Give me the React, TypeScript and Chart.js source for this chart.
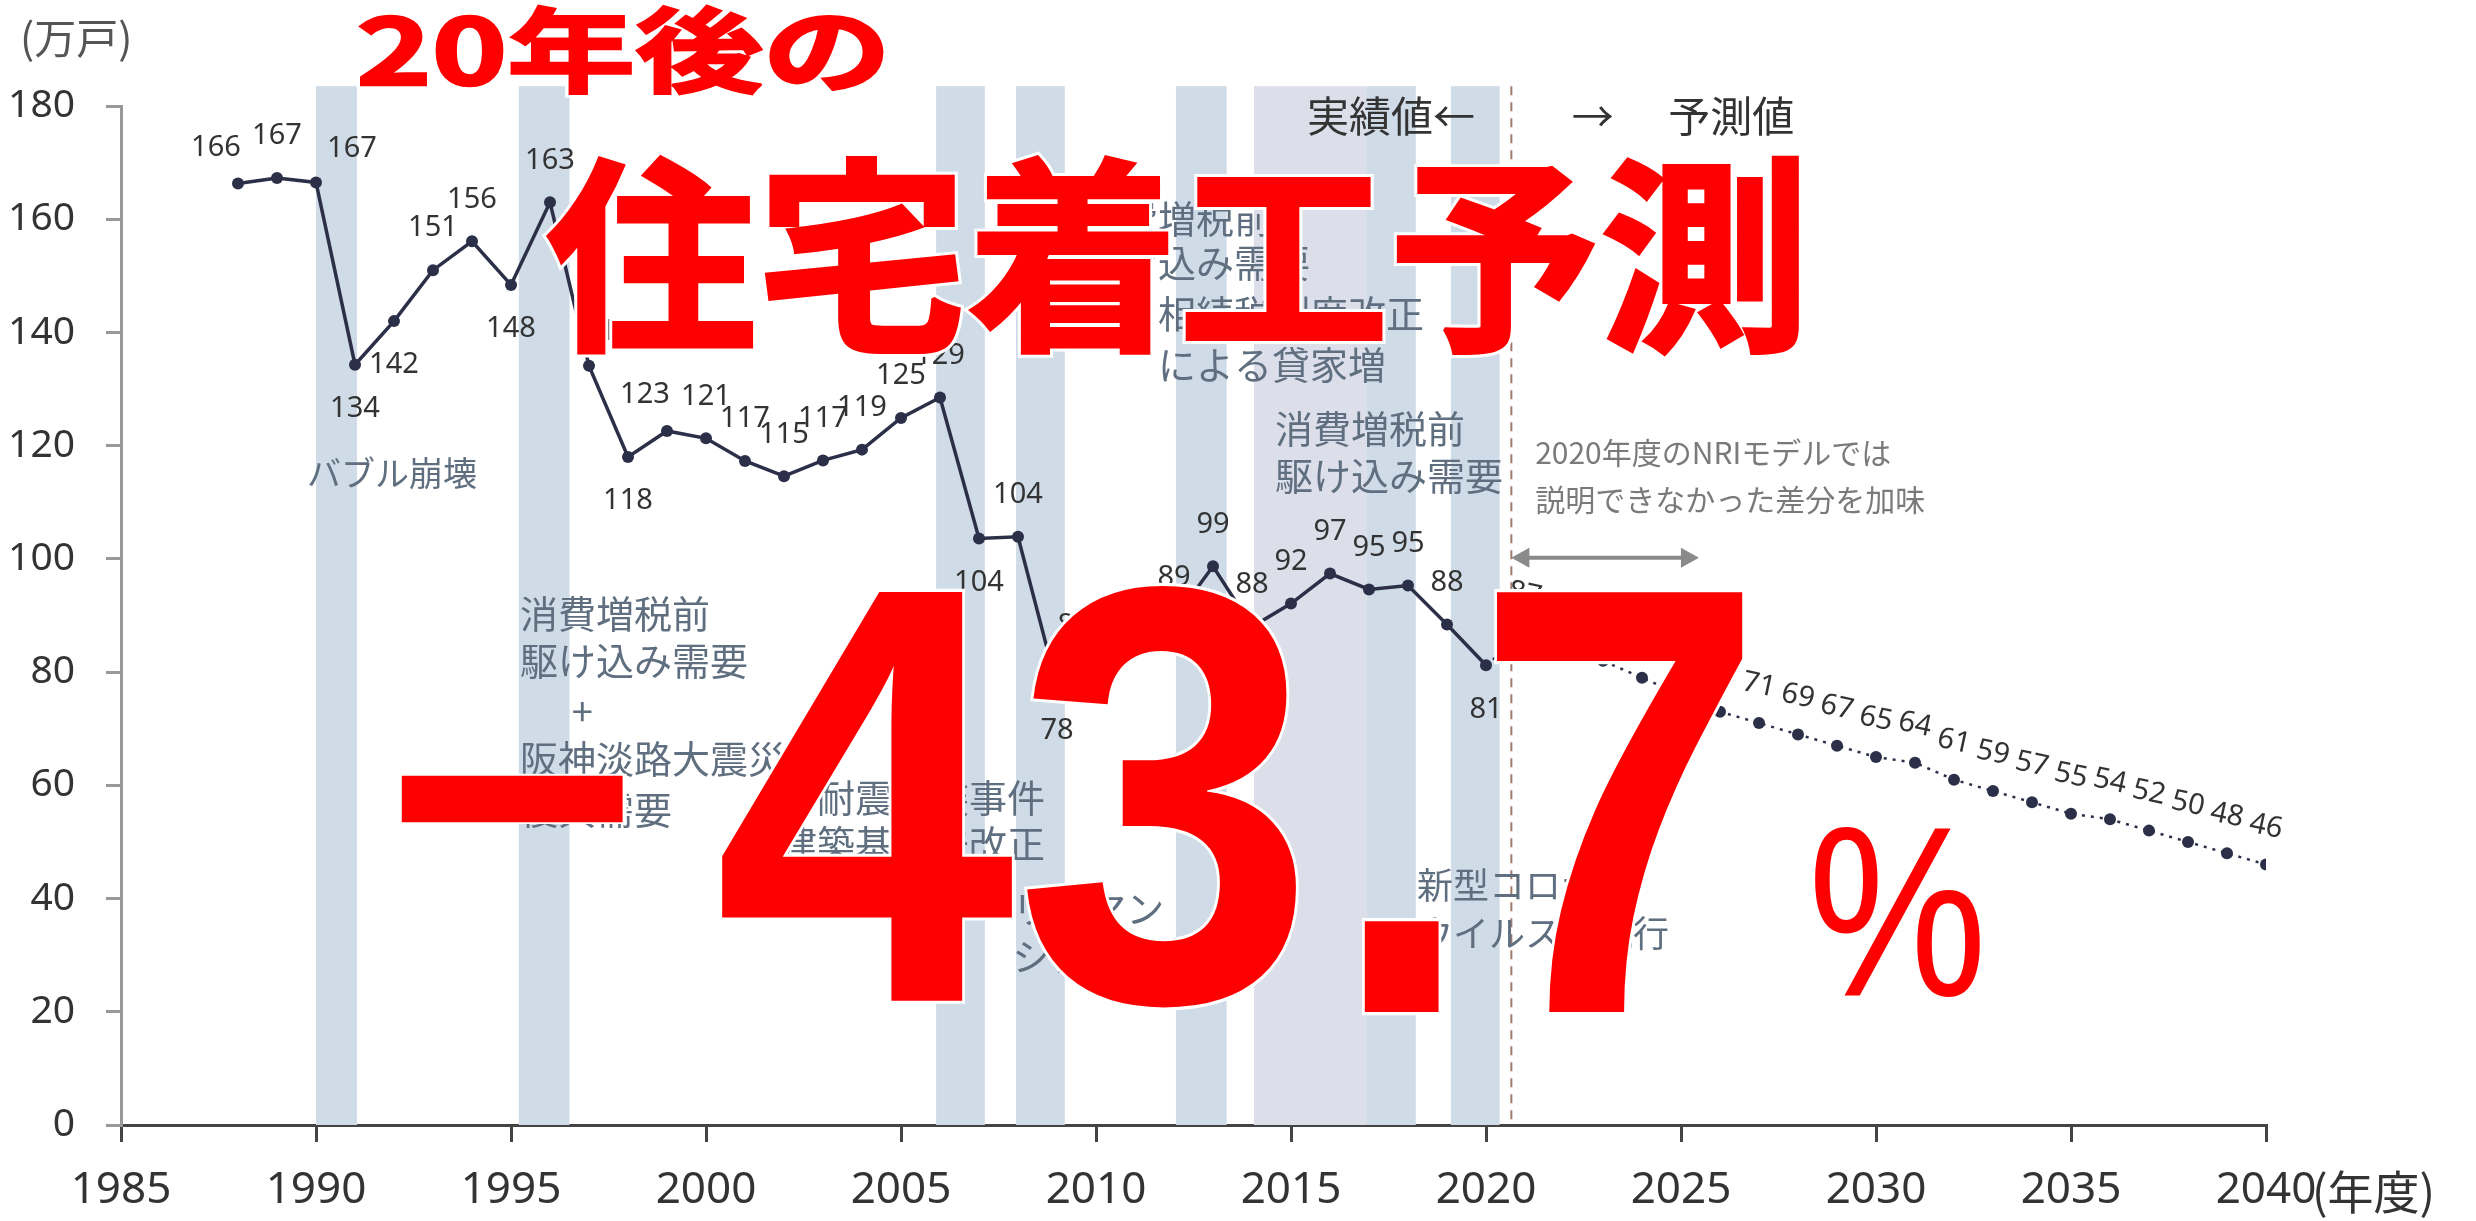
import React, { useEffect, useRef } from 'react';
import { Chart, registerables } from 'chart.js';

Chart.register(...registerables);

// ---------- data ----------
const actualYears = [1988, 1989, 1990, 1991, 1992, 1993, 1994, 1995, 1996, 1997, 1998, 1999, 2000, 2001, 2002, 2003, 2004, 2005, 2006, 2007, 2008, 2009, 2010, 2011, 2012, 2013, 2014, 2015, 2016, 2017, 2018, 2019, 2020];
const actualValues = [166.3, 167.3, 166.5, 134.3, 142.0, 151.0, 156.1, 148.4, 163.0, 134.1, 118.0, 122.6, 121.3, 117.3, 114.6, 117.4, 119.3, 124.9, 128.5, 103.6, 103.9, 77.5, 81.9, 84.1, 89.3, 98.7, 88.0, 92.1, 97.4, 94.6, 95.3, 88.4, 81.2];
const forecastYears = [2020, 2021, 2022, 2023, 2024, 2025, 2026, 2027, 2028, 2029, 2030, 2031, 2032, 2033, 2034, 2035, 2036, 2037, 2038, 2039, 2040];
const forecastValues = [81.2, 87, 85, 82, 79, 76, 73, 71, 69, 67, 65, 64, 61, 59, 57, 55, 54, 52, 50, 48, 46];
const xTickValues = [1985, 1990, 1995, 2000, 2005, 2010, 2015, 2020, 2025, 2030, 2035, 2040];
const yTickValues = [0, 20, 40, 60, 80, 100, 120, 140, 160, 180];

// shaded event periods (fiscal years)
const bandStarts = [1990.0, 1995.2, 2005.9, 2007.95, 2012.05, 2014.05, 2016.93, 2019.1];
const bandEnds = [1991.05, 1996.5, 2007.15, 2009.2, 2013.35, 2016.93, 2018.2, 2020.35];
const bandKinds = ['b', 'b', 'b', 'b', 'b', 'l', 'b', 'b'];
const boundaryYear = 2020.65;

// label placement per actual point (style only)
const actualLabelPos = ['al', 'a', 'ar', 'b', 'b', 'a', 'a', 'b', 'a', 'ar', 'b', 'al', 'a', 'a', 'a', 'a', 'a', 'a', 'a', 'b', 'a', 'b', 'al', 'a', 'a', 'a', 'a', 'a', 'a', 'a', 'a', 'a', 'b'];

type Note = { t: string; x: number; y: number; size?: number; align?: CanvasTextAlign; color?: string };
const notes: Note[] = [
  { t: 'バブル崩壊', x: 1989.77, y: 115.2, size: 34 },
  { t: '消費増税前', x: 1995.23, y: 90.3 },
  { t: '駆け込み需要', x: 1995.23, y: 82.0 },
  { t: '+', x: 1996.56, y: 73.1 },
  { t: '阪神淡路大震災', x: 1995.23, y: 64.8 },
  { t: '復興需要', x: 1995.23, y: 55.8 },
  { t: '耐震偽装事件', x: 2008.69, y: 57.9, align: 'right' },
  { t: '建築基準法改正', x: 2008.69, y: 49.8, align: 'right' },
  { t: 'リーマン', x: 2007.85, y: 38.3 },
  { t: 'ショック', x: 2007.85, y: 29.7 },
  { t: '消費増税前', x: 2009.64, y: 160.2 },
  { t: '駆け込み需要', x: 2009.64, y: 152.4 },
  { t: '相続税制度改正', x: 2011.59, y: 143.3 },
  { t: 'による貸家増', x: 2011.59, y: 134.4 },
  { t: '消費増税前', x: 2014.59, y: 123.1 },
  { t: '駆け込み需要', x: 2014.59, y: 114.8 },
  { t: '新型コロナ', x: 2018.23, y: 42.4, size: 36 },
  { t: 'ウイルスの流行', x: 2018.23, y: 33.9, size: 36 },
  { t: '2020年度のNRIモデルでは', x: 2021.26, y: 118.7, size: 30, color: '#7a7a7a' },
  { t: '説明できなかった差分を加味', x: 2021.26, y: 110.4, size: 30, color: '#7a7a7a' },
  { t: '実績値←', x: 2019.72, y: 178.2, size: 42, align: 'right', color: '#333' },
  { t: '→', x: 2022.2, y: 178.2, size: 42, color: '#333' },
  { t: '予測値', x: 2024.67, y: 178.2, size: 42, color: '#333' },
];

const JP = '"Noto Sans CJK JP", "Noto Sans", sans-serif';
const NUM = '"Noto Sans", "Open Sans", sans-serif';
const BIG = '"Liberation Sans", Arial, sans-serif';
const LINE = '#2b2f48';
const RED = '#ff0000';

function fitText(
  ctx: CanvasRenderingContext2D,
  text: string,
  font: string,
  l: number, t: number, r: number, b: number,
  grow: number,
  outline: number,
) {
  ctx.save();
  ctx.font = font;
  ctx.textAlign = 'left';
  ctx.textBaseline = 'alphabetic';
  const m = ctx.measureText(text);
  const inkW = m.actualBoundingBoxLeft + m.actualBoundingBoxRight;
  const inkH = m.actualBoundingBoxAscent + m.actualBoundingBoxDescent;
  const sx = (r - l - 2 * grow) / inkW;
  const sy = (b - t - 2 * grow) / inkH;
  ctx.translate(l + grow, t + grow);
  ctx.scale(sx, sy);
  const s = (sx + sy) / 2;
  const x = m.actualBoundingBoxLeft;
  const y = m.actualBoundingBoxAscent;
  ctx.lineJoin = 'miter';
  ctx.miterLimit = 2;
  ctx.strokeStyle = '#ffffff';
  ctx.lineWidth = (2 * grow + 2 * outline) / s;
  ctx.strokeText(text, x, y);
  if (grow > 0) {
    ctx.strokeStyle = RED;
    ctx.lineWidth = (2 * grow) / s;
    ctx.strokeText(text, x, y);
  }
  ctx.fillStyle = RED;
  ctx.fillText(text, x, y);
  ctx.restore();
}

const backgroundPlugin = {
  id: 'bgBands',
  beforeDatasetsDraw(chart: any) {
    const { ctx, chartArea, scales } = chart;
    const xs = scales.x;
    const ys = scales.y;
    const top = ys.getPixelForValue(183.5);
    ctx.save();
    bandStarts.forEach((s, i) => {
      const x0 = xs.getPixelForValue(s);
      const x1 = xs.getPixelForValue(bandEnds[i]);
      ctx.fillStyle = bandKinds[i] === 'l' ? '#dcdfea' : '#cfdbe7';
      ctx.fillRect(x0, top, x1 - x0, chartArea.bottom - top);
    });
    // boundary dashed line
    const bx = xs.getPixelForValue(boundaryYear);
    ctx.strokeStyle = '#a07a6c';
    ctx.lineWidth = 2;
    ctx.setLineDash([9, 7]);
    ctx.beginPath();
    ctx.moveTo(bx, top);
    ctx.lineTo(bx, chartArea.bottom);
    ctx.stroke();
    ctx.setLineDash([]);
    // double arrow
    const ay = ys.getPixelForValue(100.2);
    const ax1 = xs.getPixelForValue(2025.46);
    ctx.strokeStyle = '#8a8a8a';
    ctx.fillStyle = '#8a8a8a';
    ctx.lineWidth = 4;
    ctx.beginPath();
    ctx.moveTo(bx + 4, ay);
    ctx.lineTo(ax1 - 4, ay);
    ctx.stroke();
    ctx.beginPath();
    ctx.moveTo(bx, ay);
    ctx.lineTo(bx + 18, ay - 10);
    ctx.lineTo(bx + 18, ay + 10);
    ctx.closePath();
    ctx.fill();
    ctx.beginPath();
    ctx.moveTo(ax1, ay);
    ctx.lineTo(ax1 - 18, ay - 10);
    ctx.lineTo(ax1 - 18, ay + 10);
    ctx.closePath();
    ctx.fill();
    // annotation notes
    ctx.textBaseline = 'middle';
    notes.forEach((n) => {
      ctx.font = `${n.size || 38}px ${JP}`;
      ctx.fillStyle = n.color || '#5f6f80';
      ctx.textAlign = n.align || 'left';
      ctx.fillText(n.t, xs.getPixelForValue(n.x), ys.getPixelForValue(n.y));
    });
    ctx.restore();
  },
};

const offsets: Record<string, [number, number]> = {
  a: [0, -42],
  b: [0, 44],
  al: [-22, -36],
  ar: [36, -34],
};

const labelPlugin = {
  id: 'pointLabels',
  afterDatasetsDraw(chart: any) {
    const { ctx } = chart;
    ctx.save();
    ctx.font = `29px ${NUM}`;
    ctx.fillStyle = '#333';
    ctx.textAlign = 'center';
    ctx.textBaseline = 'middle';
    chart.getDatasetMeta(0).data.forEach((pt: any, i: number) => {
      const o = offsets[actualLabelPos[i]];
      ctx.fillText(String(Math.round(actualValues[i])), pt.x + o[0], pt.y + o[1]);
    });
    chart.getDatasetMeta(1).data.forEach((pt: any, i: number) => {
      if (i === 0) return;
      ctx.save();
      ctx.translate(pt.x, pt.y - 38);
      ctx.rotate((12 * Math.PI) / 180);
      ctx.fillText(String(forecastValues[i]), 0, 0);
      ctx.restore();
    });
    ctx.restore();
  },
};

const overlayPlugin = {
  id: 'overlay',
  afterDraw(chart: any) {
    const { ctx, scales } = chart;
    ctx.save();
    // unit labels
    ctx.fillStyle = '#555';
    ctx.textBaseline = 'middle';
    ctx.textAlign = 'left';
    ctx.font = `42px ${JP}`;
    ctx.fillText('(万戸)', 20, 38);
    ctx.fillStyle = '#333';
    ctx.font = `46px ${JP}`;
    ctx.fillText('(年度)', scales.x.getPixelForValue(2040) + 46, 1192);
    ctx.restore();

    // red headline overlay
    fitText(ctx, '20年後の', `bold 120px ${JP}`, 359, 4, 884, 96, 1.5, 3);
    fitText(ctx, '住宅着工予測', `bold 220px ${JP}`, 546, 155, 1799, 356, 2, 3);
    fitText(ctx, '-', `bold 600px ${BIG}`, 395, 772, 626, 827, 0, 3);
    fitText(ctx, '43', `bold 600px ${BIG}`, 714, 583, 1302, 1010, 0, 3);
    fitText(ctx, '.7', `bold 600px ${BIG}`, 1362, 583, 1744, 1012, 0, 3);
    fitText(ctx, '%', `200px ${BIG}`, 1815, 826, 1980, 997, 0, 3);
  },
};

export default function App() {
  const ref = useRef<HTMLCanvasElement>(null);
  useEffect(() => {
    document.body.style.margin = '0';
    document.body.style.background = '#ffffff';
    const canvas = ref.current!;
    const chart = new Chart(canvas, {
      type: 'line',
      data: {
        datasets: [
          {
            label: '実績値',
            data: actualYears.map((x, i) => ({ x, y: actualValues[i] })),
            borderColor: LINE,
            backgroundColor: LINE,
            borderWidth: 3.5,
            pointRadius: 6,
            pointBackgroundColor: LINE,
            pointBorderWidth: 0,
            tension: 0,
          },
          {
            label: '予測値',
            data: forecastYears.map((x, i) => ({ x, y: forecastValues[i] })),
            borderColor: LINE,
            backgroundColor: LINE,
            borderWidth: 2.5,
            borderDash: [3, 6],
            pointRadius: (c: any) => (c.dataIndex === 0 ? 0 : 6),
            pointBackgroundColor: LINE,
            pointBorderWidth: 0,
            tension: 0,
          },
        ],
      },
      options: {
        animation: false,
        responsive: false,
        devicePixelRatio: 1,
        layout: { padding: { top: 106, right: 210, bottom: 0, left: 0 }, autoPadding: false } as any,
        plugins: { legend: { display: false }, tooltip: { enabled: false } },
        scales: {
          x: {
            type: 'linear',
            min: 1985,
            max: 2040,
            afterBuildTicks: (s: any) => {
              s.ticks = xTickValues.map((v) => ({ value: v }));
            },
            afterFit: (s: any) => {
              s.height = 96;
            },
            ticks: {
              font: { size: 44, family: NUM },
              color: '#333',
              padding: 22,
              maxRotation: 0,
              autoSkip: false,
              callback: (v: any) => String(v),
            },
            grid: { drawOnChartArea: false, drawTicks: true, tickLength: 17, color: '#444', lineWidth: 3 },
            border: { color: '#444', width: 3 },
          },
          y: {
            type: 'linear',
            min: 0,
            max: 180,
            afterBuildTicks: (s: any) => {
              s.ticks = yTickValues.map((v) => ({ value: v }));
            },
            afterFit: (s: any) => {
              s.width = 121;
            },
            ticks: { font: { size: 39, family: NUM }, color: '#333', padding: 31 },
            grid: { drawOnChartArea: false, drawTicks: true, tickLength: 15, color: '#999', lineWidth: 3 },
            border: { color: '#999', width: 3 },
          },
        },
      } as any,
      plugins: [backgroundPlugin, labelPlugin, overlayPlugin],
    });
    return () => chart.destroy();
  }, []);
  return <canvas ref={ref} width={2476} height={1221} style={{ display: 'block', width: '2476px', height: '1221px' }} />;
}
